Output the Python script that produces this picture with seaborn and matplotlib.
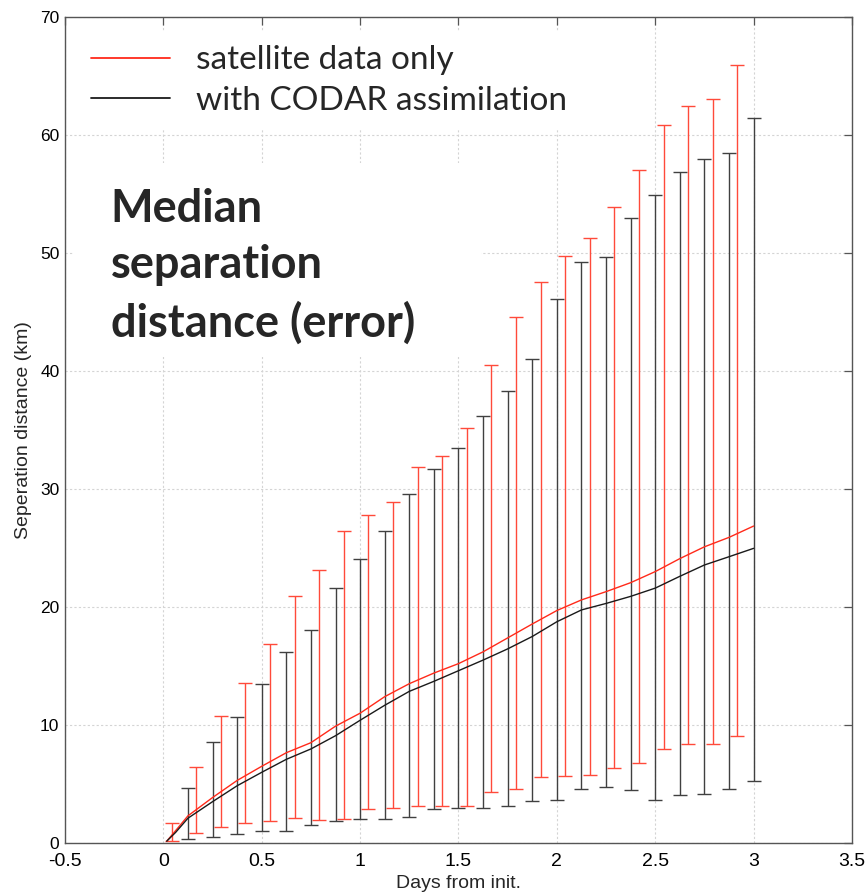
import matplotlib
matplotlib.use("Agg")
import matplotlib.pyplot as plt
import pandas as pd
import seaborn as sns
from matplotlib.lines import Line2D
from matplotlib.patches import Rectangle

# Median separation distance along the forecast (days, km)
line_days = [0.017, 0.0625, 0.125, 0.25, 0.375, 0.5, 0.625, 0.75, 0.875, 1.0,
             1.125, 1.25, 1.375, 1.5, 1.625, 1.75, 1.875, 2.0, 2.125, 2.25,
             2.375, 2.5, 2.625, 2.75, 2.875, 3.0]
sat_median = [0.15, 1.05, 2.3, 3.85, 5.3, 6.5, 7.65, 8.5, 9.9, 11.0,
              12.4, 13.5, 14.4, 15.2, 16.2, 17.38, 18.56, 19.7, 20.6, 21.3,
              22.06, 23.0, 24.1, 25.1, 25.9, 26.86]
codar_median = [0.15, 0.9, 2.1, 3.5, 4.85, 5.99, 7.09, 7.97, 9.09, 10.4,
                11.67, 12.85, 13.7, 14.6, 15.5, 16.45, 17.5, 18.75, 19.75, 20.3,
                20.9, 21.6, 22.6, 23.56, 24.26, 24.97]

# Spread of separation distances (lower / upper bound, km)
sat_days = [0.042, 0.167, 0.292, 0.417, 0.542, 0.667, 0.792, 0.917, 1.042, 1.167,
            1.292, 1.417, 1.542, 1.667, 1.792, 1.917, 2.042, 2.167, 2.292, 2.417,
            2.542, 2.667, 2.792, 2.917]
sat_low = [0.17, 0.88, 1.38, 1.72, 1.86, 2.12, 1.98, 2.0, 2.85, 2.94,
           3.13, 3.16, 3.13, 4.3, 4.6, 5.62, 5.65, 5.76, 6.33, 6.75,
           7.94, 8.39, 8.39, 9.09]
sat_high = [1.67, 6.47, 10.73, 13.56, 16.84, 20.96, 23.16, 26.47, 27.8, 28.9,
            31.9, 32.8, 35.2, 40.53, 44.6, 47.57, 49.75, 51.24, 53.87, 57.0,
            60.87, 62.43, 63.08, 65.9]

codar_days = [0.125, 0.25, 0.375, 0.5, 0.625, 0.75, 0.875, 1.0, 1.125, 1.25,
              1.375, 1.5, 1.625, 1.75, 1.875, 2.0, 2.125, 2.25, 2.375, 2.5,
              2.625, 2.75, 2.875, 3.0]
codar_low = [0.34, 0.48, 0.79, 0.99, 1.02, 1.5, 1.89, 2.03, 2.0, 2.23,
             2.9, 2.94, 2.96, 3.12, 3.59, 3.64, 4.55, 4.77, 4.52, 3.62,
             4.07, 4.18, 4.6, 5.28]
codar_high = [4.66, 8.56, 10.65, 13.5, 16.16, 18.05, 21.64, 24.07, 26.4, 29.6,
              31.7, 33.5, 36.2, 38.3, 41.0, 46.1, 49.26, 49.69, 52.99, 54.9,
              56.84, 57.94, 58.47, 61.47]

labels = ["satellite data only", "with CODAR assimilation"]
x_ticks = [-0.5, 0, 0.5, 1, 1.5, 2, 2.5, 3, 3.5]
x_ticklabels = ["-0.5", "0", "0.5", "1", "1.5", "2", "2.5", "3", "3.5"]
y_ticks = [0, 10, 20, 30, 40, 50, 60, 70]

RED = "#ff2a1a"
BLACK = "#1a1a1a"

sns.set_theme(style="white")
plt.rcParams["font.family"] = ["Liberation Sans", "DejaVu Sans"]

fig = plt.figure(figsize=(8.65, 8.93), dpi=100)
ax = fig.add_axes([0.0751, 0.056, 0.9099, 0.925])

# error bars: vertical span between lower and upper bound
for days, low, high, col in [(codar_days, codar_low, codar_high, "#404040"),
                             (sat_days, sat_low, sat_high, "#ff4a3a")]:
    mid = [(a + b) / 2 for a, b in zip(low, high)]
    err = [[m - a for m, a in zip(mid, low)], [b - m for m, b in zip(mid, high)]]
    ax.errorbar(days, mid, yerr=err, fmt="none", ecolor=col, elinewidth=1.0,
                capsize=5, capthick=1.0, zorder=2)

df = pd.DataFrame({
    "day": line_days * 2,
    "km": sat_median + codar_median,
    "run": [labels[0]] * len(line_days) + [labels[1]] * len(line_days),
})
sns.lineplot(data=df, x="day", y="km", hue="run", hue_order=labels,
             palette=[RED, BLACK], linewidth=1.0, legend=False, ax=ax, zorder=3)

ax.set_xlim(-0.5, 3.5)
ax.set_ylim(0, 70)
ax.set_xticks(x_ticks)
ax.set_xticklabels(x_ticklabels)
ax.set_yticks(y_ticks)
ax.grid(True, linestyle=(0, (2, 2)), color="#d4d4d4", linewidth=0.8)
ax.set_axisbelow(True)
for sp in ax.spines.values():
    sp.set_color("#555555")
    sp.set_linewidth(1.0)
    sp.set_visible(True)
ax.tick_params(direction="in", top=True, right=True, length=6, width=0.9,
               color="#555555", labelcolor="black")
ax.tick_params(axis="x", labelsize=14, pad=7)
ax.tick_params(axis="y", labelsize=12.5, pad=4)
ax.set_xlabel("Days from init.", fontsize=14, labelpad=4)
ax.set_ylabel("Seperation distance (km)", fontsize=14, labelpad=6)

# white panel behind the heading text
ax.add_patch(Rectangle((0.01, 0.588), 0.519, 0.235, transform=ax.transAxes,
                       facecolor="white", edgecolor="none", zorder=1))

handles = [Line2D([], [], color=RED, lw=1.3), Line2D([], [], color=BLACK, lw=1.3)]
ax.legend(handles, labels, loc="upper left", bbox_to_anchor=(0.016, 0.982),
          frameon=True, fancybox=False, framealpha=1.0, edgecolor="white",
          facecolor="white", prop={"family": "Lato", "size": 24},
          handlelength=2.37, handletextpad=0.78, labelspacing=0.32,
          borderpad=0.4, borderaxespad=0.0)

ax.text(0.058, 0.698, "Median\nseparation\ndistance (error)", transform=ax.transAxes,
        fontsize=32.5, fontweight="bold", family="Lato", va="center", ha="left",
        linespacing=1.41, zorder=4)

fig.savefig("out.png", dpi=100)
